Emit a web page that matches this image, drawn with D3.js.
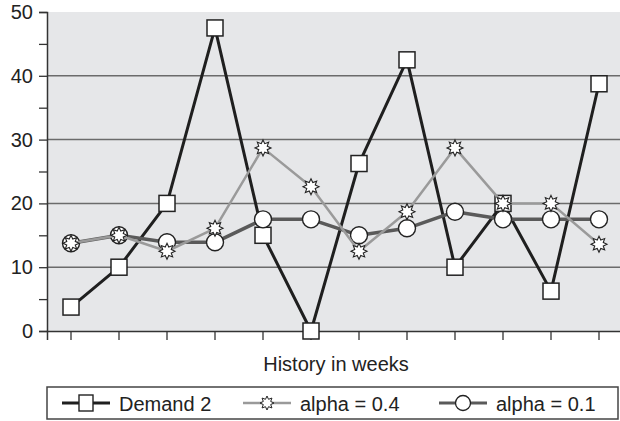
<!DOCTYPE html>
<html>
<head>
<meta charset="utf-8">
<script src="https://cdn.jsdelivr.net/npm/d3@7"></script>
<style>
  body { margin: 0; background: #fff; }
  svg { display: block; font-family: "Liberation Sans", Arial, sans-serif; }
</style>
</head>
<body>
<div id="chart"></div>
<script>
// chart data
const weeks = [1, 2, 3, 4, 5, 6, 7, 8, 9, 10, 11, 12];
const demand2 = [3.75, 10, 20, 47.5, 15, 0, 26.25, 42.5, 10, 20, 6.25, 38.75];
const alpha04 = [13.75, 15, 12.5, 16.1, 28.7, 22.6, 12.5, 18.7, 28.7, 20, 20, 13.6];
const alpha01 = [13.75, 15, 13.9, 13.9, 17.5, 17.5, 15, 16.1, 18.7, 17.5, 17.5, 17.5];
const yTicks = [0, 10, 20, 30, 40, 50];
const xLabel = "History in weeks";
const legendNames = ["Demand 2", "alpha = 0.4", "alpha = 0.1"];

const svgWidth = 620, svgHeight = 421;
const margin = { top: 12, left: 47, bottom: 90 };
const plotRight = 623;
const plotBottom = svgHeight - margin.bottom;

const svg = d3.select("#chart").append("svg")
    .attr("width", svgWidth)
    .attr("height", svgHeight);

const x = d3.scaleBand().domain(weeks).range([margin.left, plotRight]);
const xc = d => x(d) + x.bandwidth() / 2;
const y = d3.scaleLinear().domain([0, 50]).range([331, margin.top]);

// plot background
svg.append("rect")
    .attr("x", margin.left).attr("y", y(50))
    .attr("width", plotRight - margin.left).attr("height", y(0) - y(50))
    .attr("fill", "#e6e7e9");

// gridlines
svg.append("g").selectAll("line")
    .data([10, 20, 30, 40])
    .enter().append("line")
    .attr("x1", margin.left).attr("x2", plotRight)
    .attr("y1", d => y(d)).attr("y2", d => y(d))
    .attr("stroke", "#6b6b6b").attr("stroke-width", 1.5);

// y axis
const yAxis = svg.append("g")
    .attr("transform", `translate(${margin.left},0)`)
    .call(d3.axisLeft(y).tickValues(d3.range(0, 51, 5)).tickSize(8)
        .tickFormat(d => yTicks.includes(d) ? d : ""));
yAxis.select(".domain").attr("stroke", "#333").attr("stroke-width", 1.5);
yAxis.selectAll(".tick line").attr("stroke", "#333").attr("stroke-width", 1.3);
yAxis.selectAll(".tick text")
    .attr("font-size", 20).attr("fill", "#222").attr("x", -14)
    .attr("font-family", "Liberation Sans, Arial, sans-serif");

// x axis
const xAxis = svg.append("g")
    .attr("transform", `translate(0,${y(0)})`)
    .call(d3.axisBottom(x).tickSize(9).tickFormat(""));
xAxis.select(".domain").attr("stroke", "#333").attr("stroke-width", 1.5);
xAxis.selectAll(".tick line").attr("stroke", "#333").attr("stroke-width", 1.3);

svg.append("text")
    .attr("x", 336).attr("y", 371)
    .attr("text-anchor", "middle")
    .attr("font-size", 20).attr("fill", "#222")
    .text(xLabel);

// star marker path (8 points)
function starPath(ro, ri) {
    const pts = d3.range(16).map(i => {
        const a = i * Math.PI / 8 - Math.PI / 2;
        const r = i % 2 === 0 ? ro : ri;
        return [r * Math.cos(a), r * Math.sin(a)];
    });
    return "M" + pts.join("L") + "Z";
}

const series = [
    { name: legendNames[0], values: demand2, color: "#1f1f1f", width: 3, marker: "square" },
    { name: legendNames[2], values: alpha01, color: "#5a5a5a", width: 3.5, marker: "circle" },
    { name: legendNames[1], values: alpha04, color: "#9a9a9a", width: 2.5, marker: "star" }
];

function drawMarker(g, type) {
    if (type === "square") {
        g.append("rect").attr("x", -8).attr("y", -8).attr("width", 16).attr("height", 16)
            .attr("fill", "#fff").attr("stroke", "#222").attr("stroke-width", 1.5);
    } else if (type === "circle") {
        g.append("circle").attr("r", 8.5)
            .attr("fill", "#fff").attr("stroke", "#222").attr("stroke-width", 1.4);
    } else {
        g.append("path").attr("d", starPath(8, 4.6))
            .attr("fill", "#fff").attr("stroke", "#222").attr("stroke-width", 1.1);
    }
}

const line = d3.line().x((d, i) => xc(weeks[i])).y(d => y(d));

series.forEach(s => {
    svg.append("path")
        .datum(s.values)
        .attr("d", line)
        .attr("fill", "none")
        .attr("stroke", s.color)
        .attr("stroke-width", s.width)
        .attr("stroke-linejoin", "round");
    svg.append("g").selectAll("g")
        .data(s.values)
        .enter().append("g")
        .attr("transform", (d, i) => `translate(${xc(weeks[i])},${y(d)})`)
        .each(function() { drawMarker(d3.select(this), s.marker); });
});

// legend
svg.append("rect")
    .attr("x", 47).attr("y", 387).attr("width", 571).attr("height", 32)
    .attr("fill", "#fff").attr("stroke", "#444").attr("stroke-width", 1.5);

const legendItems = [
    { name: legendNames[0], color: "#1f1f1f", width: 3, marker: "square", x0: 62 },
    { name: legendNames[1], color: "#9a9a9a", width: 2.5, marker: "star", x0: 243 },
    { name: legendNames[2], color: "#5a5a5a", width: 3, marker: "circle", x0: 439 }
];
const ly = 403;
legendItems.forEach(it => {
    const g = svg.append("g");
    g.append("line")
        .attr("x1", it.x0).attr("x2", it.x0 + 48)
        .attr("y1", ly).attr("y2", ly)
        .attr("stroke", it.color).attr("stroke-width", it.width);
    const m = g.append("g").attr("transform", `translate(${it.x0 + 24},${ly})`);
    if (it.marker === "square") {
        m.append("rect").attr("x", -7).attr("y", -8).attr("width", 14).attr("height", 16)
            .attr("fill", "#fff").attr("stroke", "#222").attr("stroke-width", 1.4);
    } else if (it.marker === "circle") {
        m.append("circle").attr("r", 7.5)
            .attr("fill", "#fff").attr("stroke", "#222").attr("stroke-width", 1.3);
    } else {
        m.append("path").attr("d", starPath(7, 4))
            .attr("fill", "#fff").attr("stroke", "#222").attr("stroke-width", 1);
    }
    g.append("text")
        .attr("x", it.x0 + 57).attr("y", ly + 7.5)
        .attr("font-size", 20).attr("fill", "#222")
        .text(it.name);
});
</script>
</body>
</html>
